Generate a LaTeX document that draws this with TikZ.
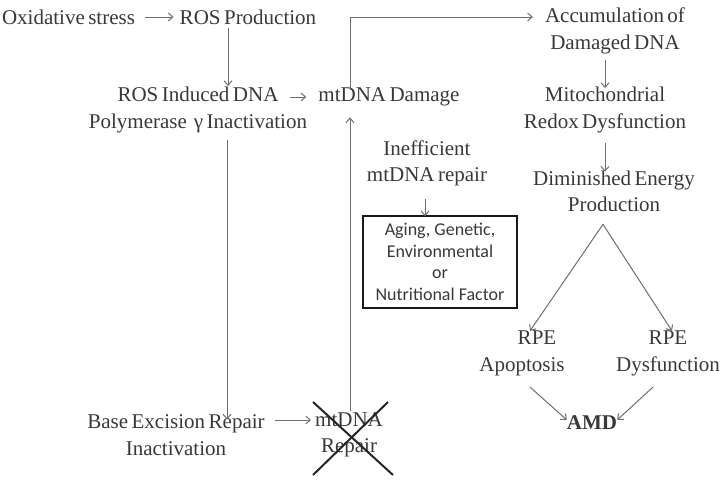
\documentclass[tikz,border=0pt]{standalone}
\usepackage{fontspec}
\setmainfont{Liberation Serif}
\newfontfamily\boxfont{Carlito}
\usetikzlibrary{arrows.meta}
\definecolor{txtgray}{HTML}{383838}
\definecolor{arrgray}{HTML}{6E6E6E}
\newcommand\myfontset{\fontsize{21}{26.5}\selectfont\spaceskip=3.5pt plus 1pt\relax}
\begin{document}
\begin{tikzpicture}[x=1pt,y=1pt,
  txt/.style={align=center,inner sep=0pt,text=txtgray,font=\myfontset},
  fbox/.style={draw=black!90,line width=1.8pt,align=center,inner sep=0pt,
    minimum width=154,minimum height=92,text=txtgray,
    font=\boxfont\fontsize{18}{21.6}\selectfont},
  arr/.style={draw=arrgray,line width=1pt,-{Straight Barb[length=4.5pt,width=8pt]}},
  cross/.style={draw=black!85,line width=2pt}]
\useasboundingbox (0,0) rectangle (724,-483);

\node[txt] (ox) at (68.5,-17) {Oxidative stress};
\node[txt] (rosp) at (248,-17) {ROS Production};
\node[txt] (rosi) at (198,-110) {ROS Induced DNA\\Polymerase \,γ Inactivation};
\node[txt] (mtd) at (389,-97) {mtDNA Damage};
\node[txt] (acc) at (615,-31) {Accumulation of\\Damaged DNA};
\node[txt] (mito) at (605,-110) {Mitochondrial\\Redox Dysfunction};
\node[txt] (dim) at (614,-191.5) {Diminished Energy\\Production};
\node[txt] (ineff) at (427,-163.5) {Inefficient\\mtDNA repair};
\node[fbox] (box) at (440,-262) {Aging, Genetic,\\Environmental\\or\\Nutritional Factor};
\node[txt] (rpea) at (522,-353.5) {\hspace*{30pt}RPE\\Apoptosis};
\node[txt] (rped) at (668,-353.5) {RPE\\Dysfunction};
\node[txt,font=\myfontset\bfseries] (amd) at (592,-423) {AMD};
\node[txt] (ber) at (176,-435) {Base Excision Repair\\Inactivation};
\node[txt] (mtr) at (349,-435) {mtDNA\\Repair};

% connectors
\draw[arr] ([xshift=10]ox.east) -- ([xshift=-6]rosp.west);
\draw[arr] ([xshift=-20,yshift=-3]rosp.south) -- ([xshift=30,yshift=1]rosi.north);
\draw[arr] ([xshift=-28]mtd.west) -- ([xshift=-12]mtd.west);
\draw[arr] ([xshift=1,yshift=1]mtr.north) -- ([xshift=-39,yshift=-11]mtd.south);
\draw[arr] ([xshift=-39,yshift=-2]mtd.north) |- ([xshift=-12,yshift=14]acc.west);
\draw[arr] ([xshift=-10,yshift=-6]acc.south) -- ([xshift=0,yshift=-1]mito.north);
\draw[arr] ([xshift=0,yshift=-10]mito.south) -- ([xshift=-9,yshift=-1]dim.north);
\draw[arr] ([xshift=-11,yshift=-12]dim.south) -- ([xshift=8,yshift=0]rpea.north);
\draw[arr] ([xshift=-11,yshift=-12]dim.south) -- ([xshift=4,yshift=0]rped.north);
\draw[arr] ([xshift=-2,yshift=-12]ineff.south) -- ([xshift=-15,yshift=-1]box.north);
\draw[arr] ([xshift=8,yshift=-11]rpea.south) -- ([yshift=-4]amd.north west);
\draw[arr] ([xshift=-15,yshift=-11]rped.south) -- ([yshift=-4]amd.north east);
\draw[arr] ([xshift=29,yshift=-7]rosi.south) -- ([xshift=51,yshift=-5]ber.north);
\draw[arr] ([xshift=10,yshift=15]ber.east) -- ([xshift=-4,yshift=15]mtr.west);

% cross over mtDNA Repair
\draw[cross] ([shift={(-36,33)}]mtr.center) -- ([shift={(44,-40)}]mtr.center);
\draw[cross] ([shift={(39,33)}]mtr.center) -- ([shift={(-36,-40)}]mtr.center);
\end{tikzpicture}
\end{document}
